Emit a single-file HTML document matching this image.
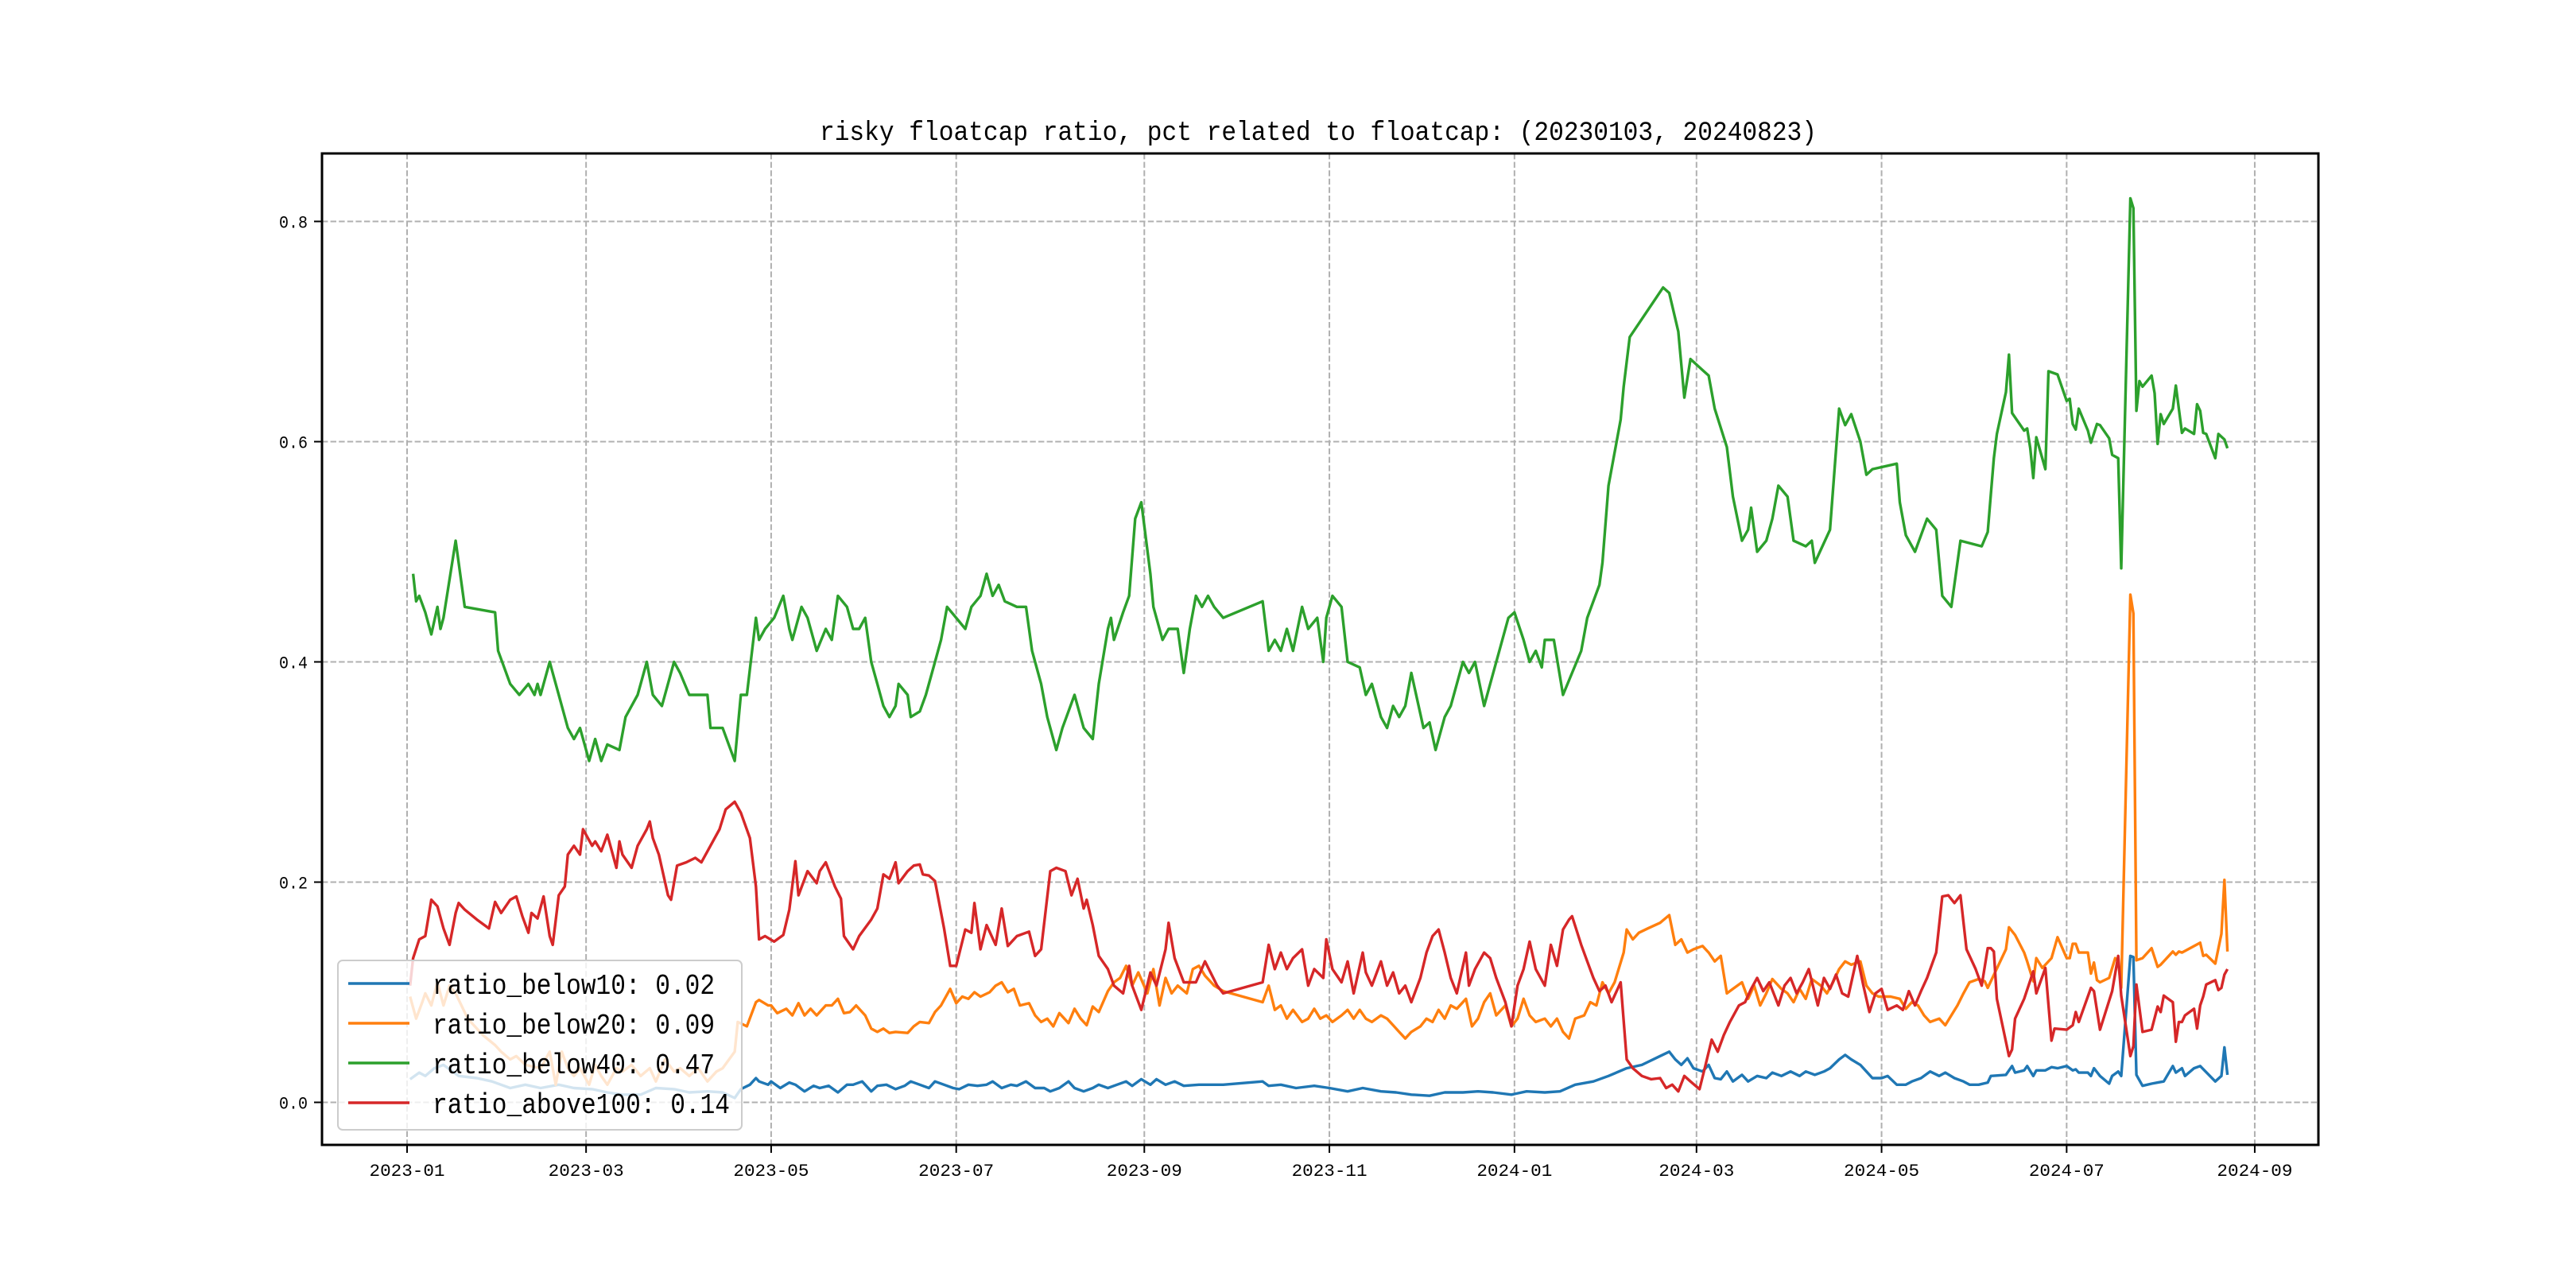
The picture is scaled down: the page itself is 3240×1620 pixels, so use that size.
<!DOCTYPE html>
<html><head><meta charset="utf-8"><style>
html,body{margin:0;padding:0;background:#fff;}
svg{display:block;}
text{font-family:"Liberation Mono","Noto Sans CJK SC",monospace;fill:#000;}
</style></head><body>
<svg id="chart" width="3240" height="1620" viewBox="0 0 3240 1620" xmlns="http://www.w3.org/2000/svg">
<rect x="0" y="0" width="3240" height="1620" fill="#fff"/>
<text x="1658" y="176" text-anchor="middle" font-size="34" textLength="1254" lengthAdjust="spacingAndGlyphs">risky floatcap ratio, pct related to floatcap: (20230103, 20240823)</text>
<g id="grid"></g>
<g id="series"></g>
<rect x="405" y="193" width="2511" height="1247" fill="none" stroke="#000" stroke-width="3"/>
<g id="ticks"></g>
<g id="legend"></g>
</svg>
<script>
const baseDate = "2023-01-01";
const xTickLabels = ["2023-01","2023-03","2023-05","2023-07","2023-09","2023-11","2024-01","2024-03","2024-05","2024-07","2024-09"];
const yTickValues = [0.0,0.2,0.4,0.6,0.8];
const seriesNames = ["ratio_below10","ratio_below20","ratio_below40","ratio_above100"];
const seriesLastValues = ["0.02","0.09","0.47","0.14"];
const seriesColors = ["#1f77b4","#ff7f0e","#2ca02c","#d62728"];
// [day offset from baseDate, value]
const below10 = [[1,.021],[4,.027],[6,.024],[9,.031],[12,.034],[15,.028],[17,.024],[23,.022],[28,.019],[34,.013],[39,.016],[44,.013],[50,.016],[55,.013],[61,.012],[66,.009],[71,.007],[77,.007],[82,.013],[88,.012],[93,.009],[99,.010],[104,.009],[108,.004],[110,.012],[113,.016],[115,.022],[116,.019],[119,.016],[120,.019],[123,.013],[126,.018],[128,.016],[131,.010],[134,.015],[136,.013],[139,.015],[142,.009],[145,.016],[147,.016],[150,.019],[153,.010],[155,.015],[158,.016],[161,.012],[164,.015],[166,.019],[169,.016],[172,.013],[174,.019],[177,.016],[180,.013],[182,.012],[185,.016],[188,.015],[191,.016],[193,.019],[196,.013],[199,.016],[201,.015],[204,.019],[207,.013],[210,.013],[212,.010],[215,.013],[218,.019],[220,.013],[223,.010],[226,.013],[228,.016],[231,.013],[234,.016],[237,.019],[239,.015],[242,.021],[245,.016],[247,.021],[250,.016],[253,.019],[256,.015],[261,.016],[269,.016],[282,.019],[284,.015],[288,.016],[293,.013],[299,.015],[304,.013],[310,.010],[315,.013],[321,.010],[326,.009],[331,.007],[337,.006],[342,.009],[348,.009],[353,.010],[358,.009],[364,.007],[369,.010],[375,.009],[380,.010],[385,.016],[391,.019],[396,.024],[402,.031],[407,.034],[413,.042],[416,.046],[418,.039],[420,.034],[422,.040],[424,.031],[427,.028],[429,.034],[431,.022],[433,.021],[435,.028],[437,.019],[440,.025],[442,.019],[445,.024],[448,.022],[450,.027],[453,.024],[456,.028],[459,.024],[461,.028],[464,.025],[467,.028],[469,.031],[472,.039],[474,.043],[476,.039],[479,.034],[481,.028],[483,.022],[486,.022],[488,.024],[491,.016],[494,.016],[496,.019],[499,.022],[502,.028],[505,.024],[507,.027],[510,.022],[513,.019],[515,.016],[518,.016],[521,.018],[522,.024],[527,.025],[529,.033],[530,.027],[533,.029],[534,.033],[536,.024],[537,.029],[540,.029],[542,.032],[544,.031],[547,.033],[549,.029],[550,.030],[551,.027],[554,.027],[555,.024],[556,.031],[558,.024],[561,.017],[562,.024],[564,.028],[565,.024],[568,.133],[569,.132],[570,.025],[572,.015],[575,.017],[577,.018],[579,.019],[582,.033],[583,.027],[585,.031],[586,.024],[589,.031],[591,.033],[596,.019],[598,.024],[599,.050],[600,.025]];
const below20 = [[1,.096],[3,.076],[5,.091],[6,.099],[8,.088],[10,.109],[12,.088],[14,.106],[16,.099],[20,.076],[25,.061],[29,.052],[31,.046],[34,.039],[36,.042],[39,.034],[44,.031],[47,.046],[49,.016],[51,.046],[53,.031],[55,.024],[57,.031],[60,.016],[62,.034],[64,.024],[66,.016],[69,.031],[71,.028],[74,.034],[77,.024],[80,.031],[82,.019],[85,.039],[88,.028],[90,.031],[93,.024],[96,.031],[99,.019],[102,.028],[104,.031],[108,.046],[109,.073],[112,.069],[115,.091],[116,.093],[119,.088],[120,.088],[122,.081],[125,.085],[127,.079],[129,.090],[131,.079],[133,.085],[135,.079],[138,.088],[140,.088],[142,.094],[144,.081],[146,.082],[148,.088],[151,.079],[153,.067],[155,.064],[157,.067],[159,.063],[161,.064],[165,.063],[167,.069],[169,.073],[172,.072],[174,.082],[176,.088],[179,.103],[181,.090],[183,.096],[185,.094],[187,.100],[189,.096],[192,.100],[194,.106],[196,.109],[198,.100],[200,.103],[202,.088],[205,.090],[207,.079],[209,.073],[211,.076],[213,.069],[215,.081],[218,.072],[220,.085],[222,.076],[224,.070],[226,.087],[228,.082],[231,.101],[233,.109],[235,.113],[237,.124],[239,.106],[241,.118],[244,.099],[246,.121],[248,.088],[250,.113],[252,.099],[254,.106],[257,.099],[259,.121],[261,.124],[263,.115],[266,.106],[269,.101],[282,.091],[284,.106],[286,.084],[288,.088],[290,.076],[292,.084],[295,.073],[297,.076],[299,.085],[301,.076],[303,.079],[305,.073],[308,.079],[310,.084],[312,.076],[314,.084],[316,.076],[318,.073],[321,.079],[323,.076],[325,.070],[327,.064],[329,.058],[331,.064],[334,.069],[336,.076],[338,.073],[340,.084],[342,.076],[344,.088],[346,.085],[349,.094],[351,.069],[353,.076],[355,.091],[357,.099],[359,.079],[362,.088],[364,.069],[366,.076],[368,.094],[370,.079],[372,.073],[375,.076],[377,.069],[379,.076],[381,.064],[383,.058],[385,.076],[388,.079],[390,.091],[392,.088],[394,.109],[396,.099],[398,.109],[401,.136],[402,.157],[404,.148],[406,.154],[409,.158],[413,.163],[416,.170],[418,.143],[420,.148],[422,.136],[424,.139],[427,.142],[429,.136],[431,.128],[433,.133],[435,.099],[437,.103],[440,.109],[442,.094],[444,.106],[446,.088],[448,.099],[450,.112],[453,.103],[455,.099],[457,.091],[459,.103],[461,.094],[463,.112],[466,.106],[468,.099],[470,.109],[472,.121],[474,.128],[476,.125],[479,.128],[481,.106],[483,.099],[485,.096],[489,.096],[492,.094],[494,.085],[496,.091],[498,.088],[500,.079],[502,.073],[505,.076],[507,.070],[509,.079],[511,.088],[513,.099],[515,.109],[518,.112],[520,.110],[521,.104],[527,.139],[528,.159],[530,.152],[533,.136],[534,.128],[536,.110],[537,.131],[539,.122],[542,.131],[544,.150],[547,.131],[548,.131],[549,.144],[550,.144],[551,.136],[554,.136],[555,.117],[556,.127],[557,.111],[558,.109],[561,.113],[563,.131],[564,.128],[565,.104],[568,.461],[569,.444],[570,.129],[572,.131],[575,.140],[577,.123],[578,.125],[582,.137],[583,.134],[584,.137],[585,.136],[591,.145],[592,.133],[593,.134],[596,.126],[598,.153],[599,.202],[600,.137]];
const below40 = [[2,.48],[3,.455],[4,.46],[6,.445],[8,.425],[10,.45],[11,.43],[12,.44],[16,.51],[19,.45],[29,.445],[30,.41],[34,.38],[37,.37],[40,.38],[42,.37],[43,.38],[44,.37],[47,.40],[48,.39],[50,.37],[53,.34],[55,.33],[57,.34],[60,.31],[62,.33],[64,.31],[66,.325],[70,.32],[72,.35],[76,.37],[79,.40],[81,.37],[84,.36],[88,.40],[90,.39],[93,.37],[99,.37],[100,.34],[104,.34],[108,.31],[110,.37],[112,.37],[115,.44],[116,.42],[118,.43],[121,.44],[124,.46],[126,.43],[127,.42],[130,.45],[132,.44],[135,.41],[138,.43],[140,.42],[142,.46],[145,.45],[147,.43],[149,.43],[151,.44],[153,.40],[155,.38],[157,.36],[159,.35],[161,.36],[162,.38],[165,.37],[166,.35],[169,.355],[171,.37],[174,.40],[176,.42],[178,.45],[181,.44],[184,.43],[186,.45],[189,.46],[191,.48],[193,.46],[195,.47],[197,.455],[201,.45],[204,.45],[206,.41],[207,.40],[209,.38],[211,.35],[213,.33],[214,.32],[216,.34],[220,.37],[223,.34],[226,.33],[228,.38],[231,.43],[232,.44],[233,.42],[236,.445],[238,.46],[240,.53],[242,.545],[245,.48],[246,.45],[249,.42],[251,.43],[254,.43],[256,.39],[258,.43],[260,.46],[262,.45],[264,.46],[266,.45],[269,.44],[282,.455],[284,.41],[286,.42],[288,.41],[290,.43],[292,.41],[295,.45],[297,.43],[300,.44],[302,.40],[303,.44],[305,.46],[308,.45],[310,.40],[314,.395],[316,.37],[318,.38],[321,.35],[323,.34],[325,.36],[327,.35],[329,.36],[331,.39],[335,.34],[337,.345],[339,.32],[342,.35],[344,.36],[348,.40],[350,.39],[352,.40],[355,.36],[357,.38],[360,.41],[363,.44],[365,.445],[368,.42],[370,.40],[372,.41],[374,.395],[375,.42],[378,.42],[381,.37],[384,.39],[387,.41],[389,.44],[393,.47],[394,.49],[396,.56],[400,.62],[401,.65],[403,.695],[414,.74],[416,.735],[419,.70],[421,.64],[423,.675],[427,.665],[429,.66],[431,.63],[435,.595],[437,.55],[440,.51],[442,.52],[443,.54],[445,.50],[448,.51],[450,.53],[452,.56],[455,.55],[457,.51],[461,.505],[463,.51],[464,.49],[469,.52],[472,.63],[474,.615],[476,.625],[479,.60],[481,.57],[483,.575],[491,.58],[492,.545],[494,.515],[497,.50],[501,.53],[504,.52],[506,.46],[509,.45],[512,.51],[519,.505],[521,.518],[522,.552],[523,.585],[524,.607],[527,.645],[528,.679],[529,.626],[533,.610],[534,.612],[535,.594],[536,.567],[537,.604],[540,.575],[541,.664],[544,.661],[547,.637],[548,.639],[549,.616],[550,.611],[551,.630],[554,.610],[555,.599],[557,.616],[558,.615],[561,.603],[562,.588],[564,.585],[565,.485],[568,.821],[569,.812],[570,.628],[571,.655],[572,.650],[575,.660],[576,.644],[577,.598],[578,.625],[579,.616],[582,.630],[583,.651],[585,.608],[586,.612],[589,.607],[590,.634],[591,.628],[592,.608],[593,.607],[596,.585],[597,.607],[599,.602],[600,.594]];
const above100 = [[1,.106],[2,.131],[4,.148],[6,.151],[8,.184],[10,.178],[12,.158],[14,.143],[16,.172],[17,.181],[19,.175],[23,.166],[27,.158],[29,.182],[31,.172],[34,.184],[36,.187],[38,.169],[40,.154],[41,.172],[43,.167],[45,.187],[47,.151],[48,.143],[50,.188],[52,.196],[53,.225],[55,.233],[57,.225],[58,.248],[61,.233],[62,.237],[64,.228],[66,.243],[69,.213],[70,.237],[71,.225],[74,.213],[76,.233],[79,.248],[80,.255],[81,.240],[83,.225],[86,.188],[87,.184],[89,.215],[92,.218],[95,.222],[97,.218],[100,.233],[103,.248],[105,.266],[108,.273],[110,.263],[113,.240],[115,.196],[116,.148],[118,.151],[121,.146],[124,.152],[126,.175],[128,.219],[129,.188],[132,.210],[135,.199],[136,.210],[138,.218],[141,.196],[143,.185],[144,.151],[147,.139],[149,.151],[153,.166],[155,.176],[157,.207],[159,.203],[161,.218],[162,.199],[165,.210],[167,.215],[169,.216],[170,.207],[172,.206],[174,.201],[177,.158],[179,.124],[181,.124],[184,.157],[186,.154],[187,.181],[189,.139],[191,.161],[194,.143],[196,.176],[198,.142],[201,.151],[205,.155],[207,.133],[209,.139],[212,.210],[214,.213],[217,.210],[219,.188],[221,.203],[223,.176],[224,.184],[226,.161],[228,.133],[231,.121],[233,.106],[236,.099],[238,.124],[239,.106],[242,.084],[245,.118],[247,.106],[250,.139],[251,.163],[253,.131],[256,.109],[260,.109],[263,.128],[267,.106],[269,.099],[282,.109],[284,.143],[286,.121],[288,.136],[290,.121],[292,.131],[295,.139],[297,.106],[299,.121],[302,.113],[303,.148],[305,.121],[308,.109],[310,.128],[312,.099],[315,.136],[316,.118],[318,.106],[321,.128],[323,.106],[325,.118],[327,.099],[329,.106],[331,.091],[334,.113],[336,.136],[338,.151],[340,.157],[342,.136],[344,.113],[346,.099],[349,.136],[350,.106],[352,.121],[355,.136],[357,.131],[359,.113],[362,.091],[364,.069],[366,.106],[368,.121],[370,.146],[372,.121],[375,.106],[377,.143],[379,.124],[381,.157],[383,.166],[384,.169],[387,.143],[389,.128],[391,.113],[393,.101],[395,.106],[397,.091],[400,.109],[402,.039],[404,.031],[407,.024],[410,.021],[413,.022],[415,.013],[417,.016],[419,.010],[421,.024],[423,.019],[426,.012],[428,.034],[430,.057],[432,.046],[434,.061],[436,.073],[439,.088],[441,.091],[443,.103],[445,.113],[447,.101],[449,.109],[452,.088],[454,.106],[456,.113],[458,.099],[460,.109],[462,.121],[465,.088],[467,.113],[469,.103],[471,.116],[473,.099],[475,.096],[478,.133],[480,.106],[482,.082],[484,.099],[486,.103],[488,.084],[491,.088],[493,.084],[495,.101],[497,.088],[499,.101],[501,.113],[504,.136],[506,.187],[508,.188],[510,.181],[512,.188],[514,.139],[517,.121],[519,.106],[521,.140],[522,.140],[523,.137],[524,.094],[528,.042],[529,.048],[530,.076],[533,.094],[536,.119],[537,.099],[540,.122],[542,.056],[543,.067],[547,.066],[549,.070],[550,.082],[551,.073],[555,.104],[556,.101],[558,.066],[562,.101],[564,.133],[565,.097],[568,.042],[569,.051],[570,.107],[572,.064],[575,.066],[577,.087],[578,.082],[579,.097],[582,.091],[583,.055],[584,.073],[585,.073],[586,.079],[589,.085],[590,.067],[591,.088],[592,.096],[593,.107],[596,.111],[597,.102],[598,.104],[599,.116],[600,.121]];

const NS = "http://www.w3.org/2000/svg";
const X0 = 512, PX_PER_DAY = 3.816, Y0 = 1386.5, PX_PER_UNIT = 1385;
const PLOT_L = 405, PLOT_R = 2916, PLOT_T = 193, PLOT_B = 1440;
const baseMs = Date.parse(baseDate + "T00:00:00Z");
function xScale(day){ return X0 + day * PX_PER_DAY; }
function yScale(v){ return Y0 - v * PX_PER_UNIT; }
function dayOf(label){ return (Date.parse(label + "-01T00:00:00Z") - baseMs) / 86400000; }
function mk(tag, attrs, parent){ const e = document.createElementNS(NS, tag); for (const k in attrs) e.setAttribute(k, attrs[k]); parent.appendChild(e); return e; }

const grid = document.getElementById("grid");
const ticks = document.getElementById("ticks");
xTickLabels.forEach(lab => {
  const x = xScale(dayOf(lab));
  const gl = mk("line", {x1:x, x2:x, y1:PLOT_T, y2:PLOT_B, stroke:"#b0b0b0", "stroke-width":2, "stroke-dasharray":"7.4,3.2"}, grid);
  
  
  const tk = mk("line", {x1:x, x2:x, y1:PLOT_B, y2:PLOT_B+10, stroke:"#000", "stroke-width":2}, ticks);
  
  
  const t = mk("text", {x:x, y:PLOT_B+39, "text-anchor":"middle", "font-size":22, textLength:95, lengthAdjust:"spacingAndGlyphs"}, ticks);
  t.textContent = lab;
  
  
});
yTickValues.forEach(v => {
  const y = yScale(v);
  const gl = mk("line", {x1:PLOT_L, x2:PLOT_R, y1:y, y2:y, stroke:"#b0b0b0", "stroke-width":2, "stroke-dasharray":"7.4,3.2"}, grid);
  
  
  const tk = mk("line", {x1:PLOT_L-10, x2:PLOT_L, y1:y, y2:y, stroke:"#000", "stroke-width":2}, ticks);
  
  
  const t = mk("text", {x:PLOT_L-18, y:y+8, "text-anchor":"end", "font-size":22, textLength:36, lengthAdjust:"spacingAndGlyphs"}, ticks);
  t.textContent = v.toFixed(1);
  
  
});

const seriesData = [below10, below20, below40, above100];
const sg = document.getElementById("series");
seriesData.forEach((data, i) => {
  const d = data.map((p, j) => (j ? "L" : "M") + xScale(p[0]).toFixed(1) + "," + yScale(p[1]).toFixed(1)).join("");
  const path = mk("path", {d:d, fill:"none", stroke:seriesColors[i], "stroke-width":3.4, "stroke-linejoin":"round"}, sg);
  
  
});

const lg = document.getElementById("legend");
const box = mk("rect", {x:425, y:1208, width:508, height:213, rx:6, fill:"#fff", "fill-opacity":0.8, stroke:"#cccccc", "stroke-width":2}, lg);


seriesNames.forEach((n, i) => {
  const cy = 1237 + i * 50;
  const ln = mk("line", {x1:438, x2:515, y1:cy, y2:cy, stroke:seriesColors[i], "stroke-width":3.4}, lg);
  
  
  const label = n + ": " + seriesLastValues[i];
  const t = mk("text", {x:544, y:cy+13, "font-size":36, textLength:(label.length*18.7).toFixed(0), lengthAdjust:"spacingAndGlyphs"}, lg);
  t.textContent = label;
  
  
});
</script>
</body></html>
